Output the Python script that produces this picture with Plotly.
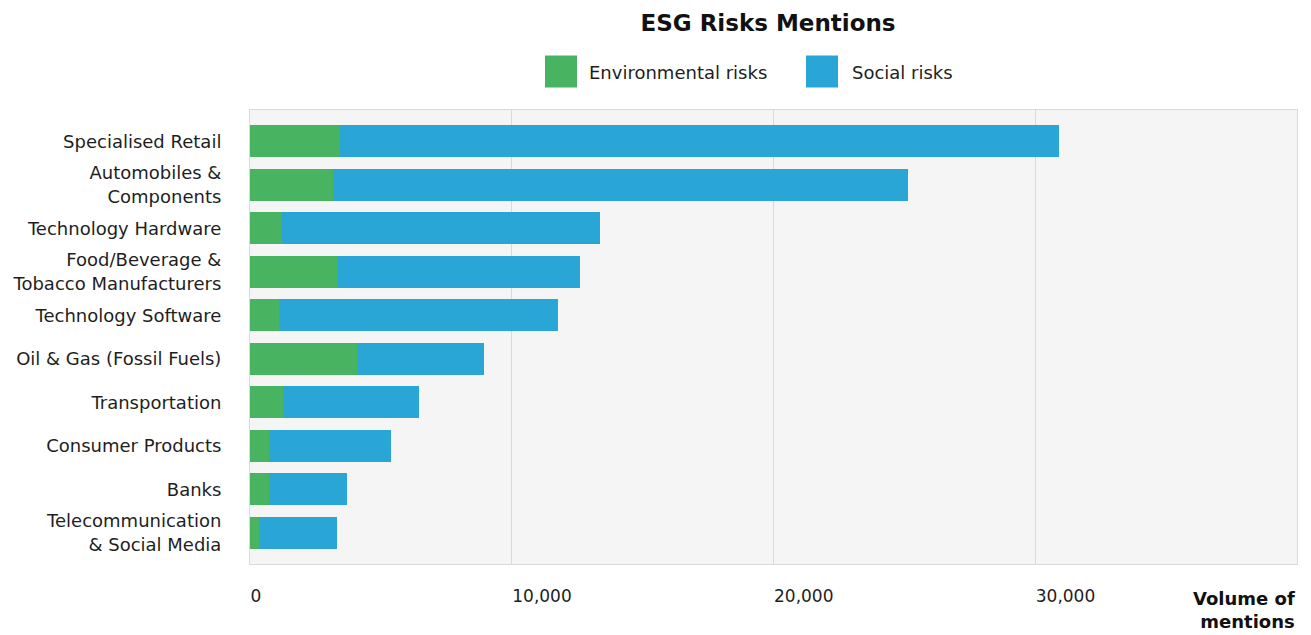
import plotly.graph_objects as go

categories = [
    "Specialised Retail",
    "Automobiles &<br>Components",
    "Technology Hardware",
    "Food/Beverage &<br>Tobacco Manufacturers",
    "Technology Software",
    "Oil & Gas (Fossil Fuels)",
    "Transportation",
    "Consumer Products",
    "Banks",
    "Telecommunication<br>& Social Media",
]
environmental = [3440, 3180, 1210, 3360, 1110, 4100, 1260, 730, 730, 345]
social = [27480, 21950, 12160, 9240, 10650, 4830, 5180, 4670, 2990, 2985]
x_ticks = [0, 10000, 20000, 30000]
x_tick_text = ["0", "10,000", "20,000", "30,000"]

GREEN = "#48B462"
BLUE = "#29A5D6"
FONT = "DejaVu Sans"
TXT = "#1e1e1e"

W, H = 1311, 635
L, R, T, B = 250, 1297, 109.5, 564


def px(xp):
    return (xp - L) / (R - L)


def py(yp):
    return (B - yp) / (B - T)


fig = go.Figure()
fig.add_trace(go.Bar(y=categories, x=environmental, orientation="h",
                     name="Environmental risks", marker=dict(color=GREEN, line=dict(width=0))))
fig.add_trace(go.Bar(y=categories, x=social, orientation="h",
                     name="Social risks", marker=dict(color=BLUE, line=dict(width=0))))

fig.update_layout(
    width=W, height=H,
    barmode="stack",
    bargap=0.27,
    showlegend=False,
    paper_bgcolor="white",
    plot_bgcolor="#F5F5F5",
    margin=dict(l=L, r=W - R, t=T, b=H - B, pad=0),
    font=dict(family=FONT, size=18, color=TXT),
    title=dict(text="<b>ESG Risks Mentions</b>", x=768 / W,
               xanchor="center", y=1 - 23 / H, yanchor="middle",
               font=dict(family=FONT, size=23, color="#111111")),
    xaxis=dict(range=[0, 40000], tickvals=x_ticks, ticktext=x_tick_text,
               showgrid=True, gridcolor="#DADADA", gridwidth=1, zeroline=False,
               showline=True, linecolor="#DADADA", mirror=True,
               ticks="", ticklabelposition="outside right", ticklabelstandoff=17,
               tickfont=dict(family=FONT, size=17, color=TXT)),
    yaxis=dict(range=[9.72, -0.72], showgrid=False, zeroline=False,
               showline=True, linecolor="#DADADA", mirror=True,
               ticks="", ticklabelstandoff=24,
               tickfont=dict(family=FONT, size=18, color=TXT)),
)

# custom legend
fig.add_shape(type="rect", xref="paper", yref="paper",
              x0=px(545), x1=px(577), y0=py(87), y1=py(55),
              fillcolor=GREEN, line=dict(width=0))
fig.add_shape(type="rect", xref="paper", yref="paper",
              x0=px(806), x1=px(838), y0=py(87), y1=py(55),
              fillcolor=BLUE, line=dict(width=0))
fig.add_annotation(xref="paper", yref="paper", x=px(587), y=py(72),
                   xanchor="left", yanchor="middle", showarrow=False,
                   text="Environmental risks", font=dict(family=FONT, size=18, color=TXT))
fig.add_annotation(xref="paper", yref="paper", x=px(850), y=py(72),
                   xanchor="left", yanchor="middle", showarrow=False,
                   text="Social risks", font=dict(family=FONT, size=18, color=TXT))

# axis title
fig.add_annotation(xref="paper", yref="paper", x=1, y=py(610),
                   xanchor="right", yanchor="middle", showarrow=False, align="right",
                   text="<b>Volume of<br>mentions</b>",
                   font=dict(family=FONT, size=18, color="#111111"))

fig.write_html("out.html")
